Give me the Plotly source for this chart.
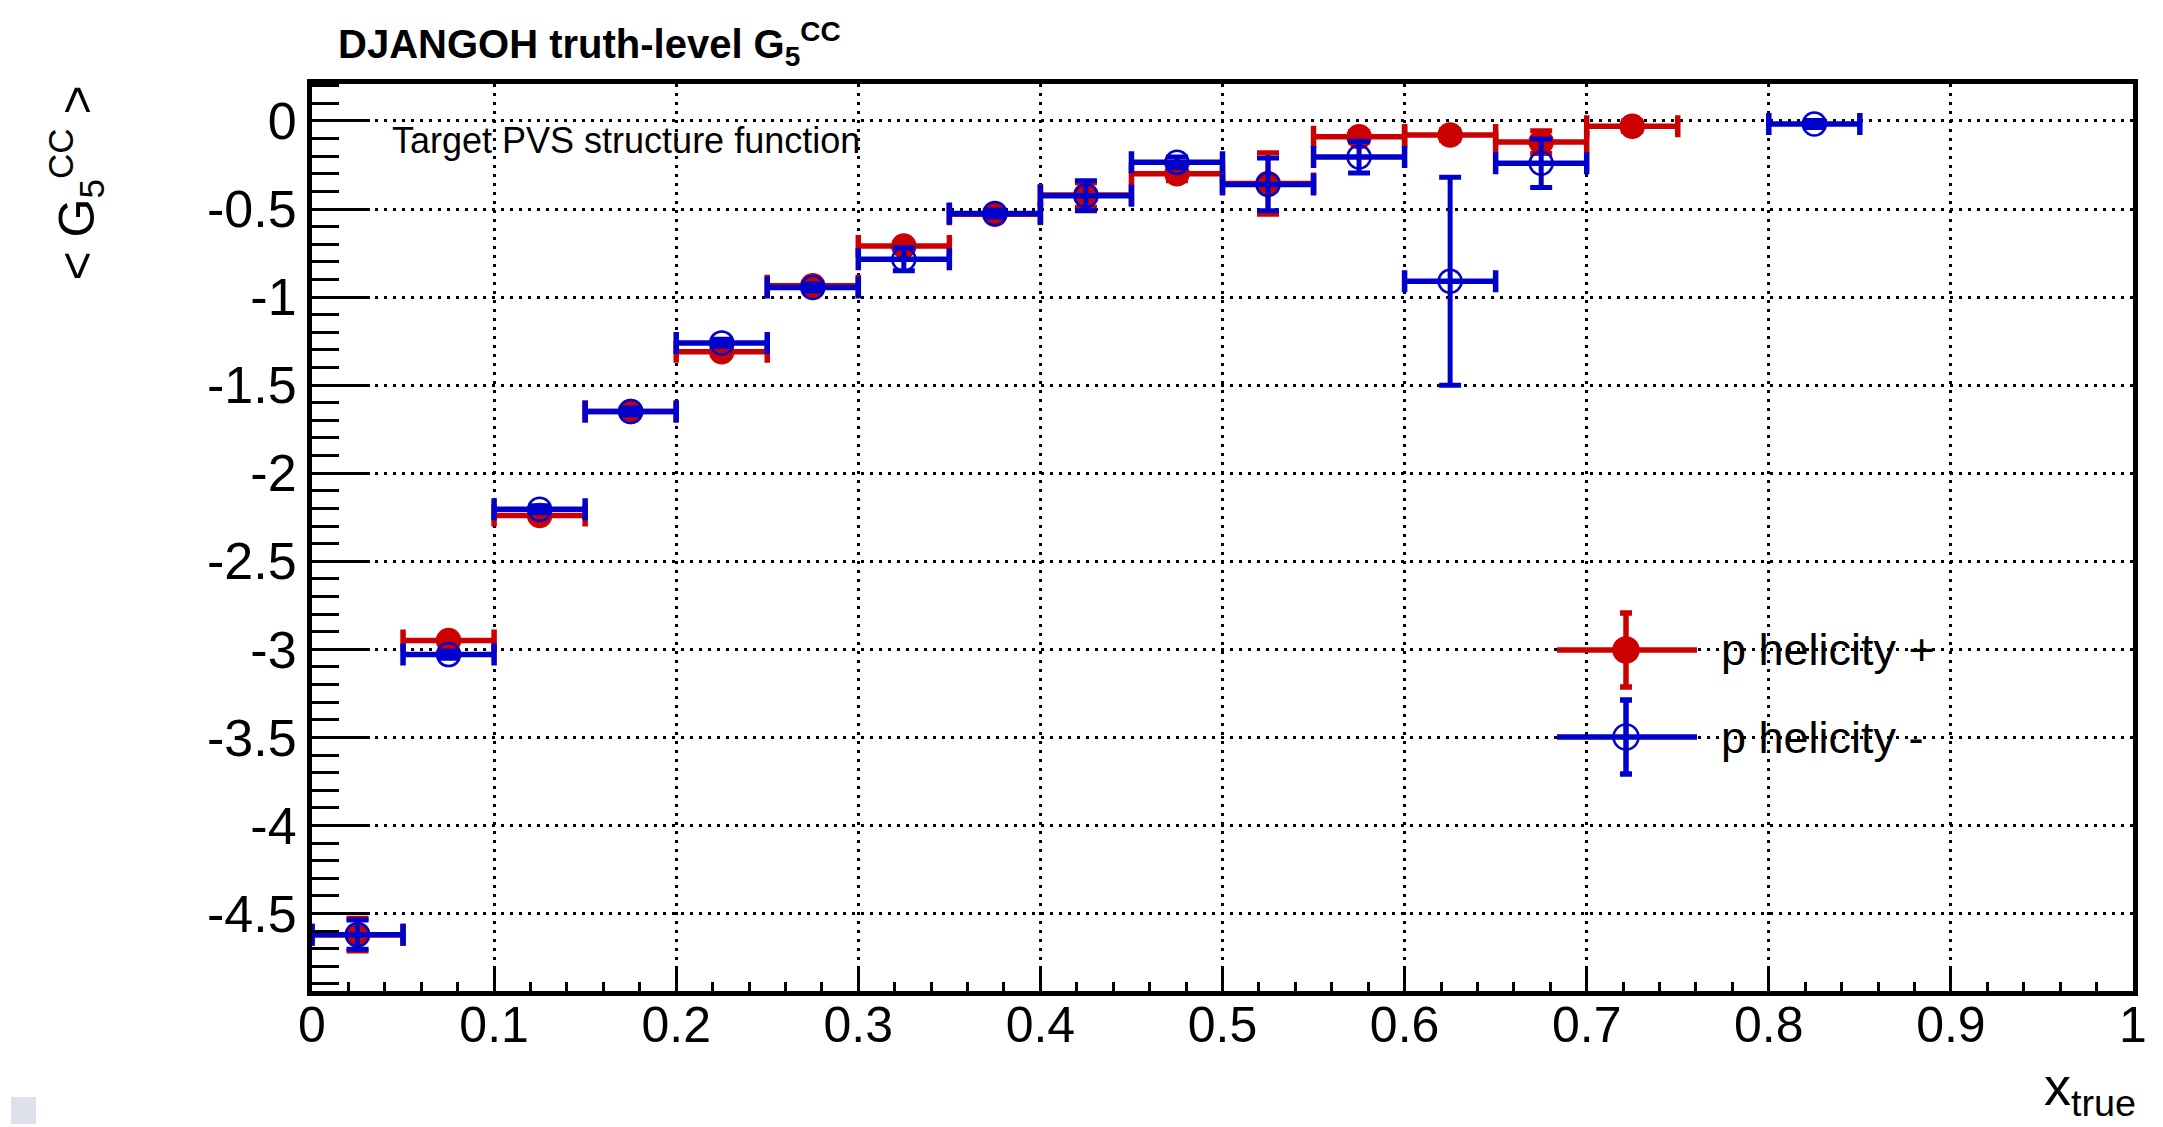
import plotly.graph_objects as go

# ---------------- data ----------------
bin_edges = [0.00, 0.05, 0.10, 0.15, 0.20, 0.25, 0.30, 0.35, 0.40,
             0.45, 0.50, 0.55, 0.60, 0.65, 0.70, 0.75, 0.80, 0.85]

# p helicity +  (filled red)
plus_g5 = [-4.62, -2.95, -2.24, -1.65, -1.31, -0.935, -0.71, -0.53, -0.42,
           -0.30, -0.355, -0.09, -0.08, -0.12, -0.03, None, None]
plus_err = [0.093, 0.02, 0.02, 0.02, 0.02, 0.02, 0.02, 0.02, 0.07,
            0.04, 0.175, 0.03, 0.03, 0.065, 0.03, None, None]

# p helicity -  (open blue)
minus_g5 = [-4.62, -3.03, -2.205, -1.65, -1.26, -0.945, -0.785, -0.525, -0.425,
            -0.235, -0.36, -0.205, -0.91, -0.24, None, None, -0.017]
minus_err = [0.083, 0.02, 0.02, 0.02, 0.02, 0.02, 0.065, 0.02, 0.085,
             0.03, 0.15, 0.09, 0.59, 0.138, None, None, 0.02]

x_tickvals = [0, 0.1, 0.2, 0.3, 0.4, 0.5, 0.6, 0.7, 0.8, 0.9, 1.0]
x_ticktext = ["0", "0.1", "0.2", "0.3", "0.4", "0.5", "0.6", "0.7", "0.8", "0.9", "1"]
y_tickvals = [0, -0.5, -1, -1.5, -2, -2.5, -3, -3.5, -4, -4.5]
y_ticktext = ["0", "-0.5", "-1", "-1.5", "-2", "-2.5", "-3", "-3.5", "-4", "-4.5"]

x_centers = [(a + b) / 2 for a, b in zip(bin_edges[:-1], bin_edges[1:])]
x_half = [(b - a) / 2 for a, b in zip(bin_edges[:-1], bin_edges[1:])]

RED = "#cc0000"
BLUE = "#0000cc"
FONT = "Liberation Sans, Arial, Helvetica, sans-serif"

W, H = 2163, 1127
L, R, T, B = 312, 2133, 84, 991


def px(xp):
    return (xp - L) / (R - L)


def py(yp):
    return (B - yp) / (B - T)


def trace(y, err, color, symbol, name):
    xs, ys, ex, ey = [], [], [], []
    for xc, xh, v, e in zip(x_centers, x_half, y, err):
        if v is None:
            continue
        xs.append(xc); ys.append(v); ex.append(xh); ey.append(e)
    return go.Scatter(
        x=xs, y=ys, mode="markers", name=name, showlegend=False,
        marker=dict(symbol=symbol, size=23, color=color,
                    line=dict(color=color, width=2.5)),
        error_x=dict(type="data", array=ex, color=color, thickness=5.5, width=11),
        error_y=dict(type="data", array=ey, color=color, thickness=5, width=11),
    )


fig = go.Figure()
fig.add_trace(trace(plus_g5, plus_err, RED, "circle", "p helicity +"))
fig.add_trace(trace(minus_g5, minus_err, BLUE, "circle-open", "p helicity -"))

axis_common = dict(
    showline=True, linewidth=5, linecolor="black", mirror=True,
    ticks="inside", tickcolor="black", tickwidth=3,
    showgrid=True, gridcolor="black", gridwidth=2.5, griddash="3px,6px",
    zeroline=False, tickmode="array",
)

fig.update_xaxes(**axis_common, range=[0, 1], tickvals=x_tickvals, ticktext=x_ticktext,
                 ticklen=23, ticklabelstandoff=-14,
                 tickfont=dict(family=FONT, size=50, color="black"),
                 minor=dict(dtick=0.02, tick0=0, ticks="inside", ticklen=9,
                            tickwidth=3, tickcolor="black", showgrid=False))
fig.update_yaxes(**axis_common, range=[-4.94, 0.21], tickvals=y_tickvals, ticktext=y_ticktext,
                 ticklen=58,
                 tickfont=dict(family=FONT, size=52, color="black"),
                 minor=dict(dtick=0.1, tick0=0, ticks="inside", ticklen=27,
                            tickwidth=3, tickcolor="black", showgrid=False))

annotations = [
    dict(text="Target PVS structure function", x=px(390), y=py(140), xref="paper", yref="paper",
         xanchor="left", yanchor="middle", showarrow=False,
         font=dict(family=FONT, size=36, color="black")),
    dict(text="< G<sub>5</sub><sup>CC</sup> >", x=px(76), y=py(84), xref="paper", yref="paper",
         xanchor="center", yanchor="top", textangle=-90, showarrow=False,
         font=dict(family=FONT, size=50, color="black")),
    dict(text="x<sub>true</sub>", x=px(2138), y=py(1090), xref="paper", yref="paper",
         xanchor="right", yanchor="middle", showarrow=False,
         font=dict(family=FONT, size=54, color="black")),
    dict(text="p helicity +", x=px(1719), y=py(650), xref="paper", yref="paper",
         xanchor="left", yanchor="middle", showarrow=False,
         font=dict(family=FONT, size=45, color="black")),
    dict(text="p helicity -", x=px(1719), y=py(737), xref="paper", yref="paper",
         xanchor="left", yanchor="middle", showarrow=False,
         font=dict(family=FONT, size=45, color="black")),
]

shapes = []
# legend samples
for yc, color, filled in [(650, RED, True), (737, BLUE, False)]:
    shapes.append(dict(type="line", xref="paper", yref="paper",
                       x0=px(1557), x1=px(1697), y0=py(yc), y1=py(yc),
                       line=dict(color=color, width=5.5)))
    shapes.append(dict(type="line", xref="paper", yref="paper",
                       x0=px(1626), x1=px(1626), y0=py(yc - 37), y1=py(yc + 37),
                       line=dict(color=color, width=5.5)))
    for yy in (yc - 37, yc + 37):
        shapes.append(dict(type="line", xref="paper", yref="paper",
                           x0=px(1620), x1=px(1632), y0=py(yy), y1=py(yy),
                           line=dict(color=color, width=5.5)))
    shapes.append(dict(type="circle", xref="paper", yref="paper",
                       x0=px(1613.5), x1=px(1638.5), y0=py(yc - 12.5), y1=py(yc + 12.5),
                       fillcolor=color if filled else "rgba(0,0,0,0)",
                       line=dict(color=color, width=2.5)))
# small corner square
shapes.append(dict(type="rect", xref="paper", yref="paper",
                   x0=px(11), x1=px(36), y0=py(1124), y1=py(1097),
                   fillcolor="#dde1ec", line=dict(width=0), layer="below"))

fig.update_layout(
    width=W, height=H,
    margin=dict(l=L, r=W - R, t=T, b=H - B, pad=0),
    paper_bgcolor="white", plot_bgcolor="white",
    showlegend=False,
    title=dict(text="<b>DJANGOH truth-level G<sub>5</sub><sup>CC</sup></b>",
               x=338 / W, xanchor="left", xref="container",
               y=1 - 44 / H, yanchor="middle", yref="container",
               font=dict(family=FONT, size=40, color="black")),
    annotations=annotations,
    shapes=shapes,
)

fig.write_html("out.html")
